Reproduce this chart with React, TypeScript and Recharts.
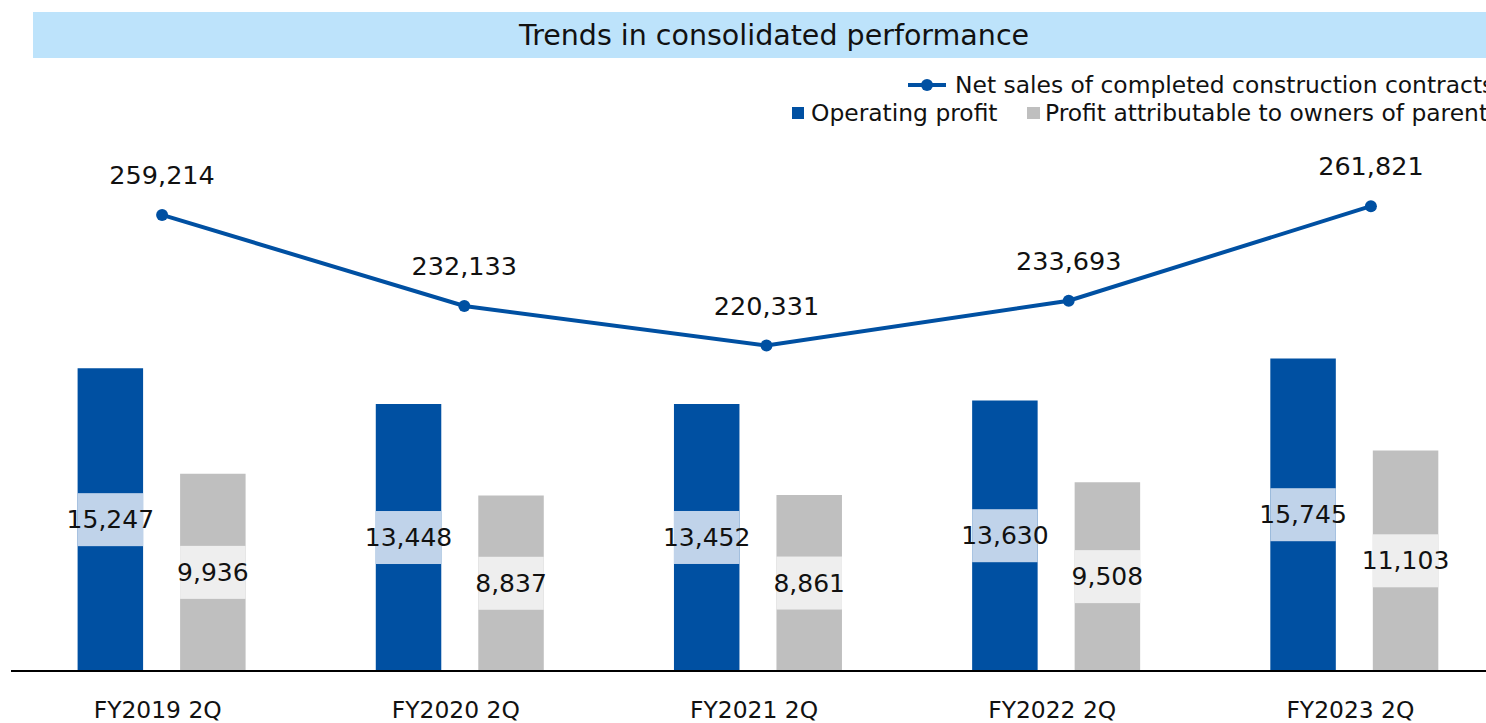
import { ComposedChart, Bar, Line, XAxis, YAxis, LabelList } from 'recharts';

const categories = ['FY2019 2Q', 'FY2020 2Q', 'FY2021 2Q', 'FY2022 2Q', 'FY2023 2Q'];
const netSales = [259214, 232133, 220331, 233693, 261821];
const operatingProfit = [15247, 13448, 13452, 13630, 15745];
const profitOwners = [9936, 8837, 8861, 9508, 11103];

const BLUE = '#0050a2';
const GRAY = '#bfbfbf';
const FONT = '"DejaVu Sans", Verdana, sans-serif';

const data = categories.map((c, i) => ({
  name: c,
  sales: netSales[i],
  op: operatingProfit[i],
  owners: profitOwners[i],
}));

const fmt = (v: number) => Number(v).toLocaleString('en-US');

// value box drawn across the middle of each bar
function boxLabel(bg: string) {
  return (props: any) => {
    const { x, y, width, height, value } = props;
    const cy = y + height / 2;
    return (
      <g>
        <rect x={x} y={cy - 26.5} width={width} height={53} fill={bg} />
        <text
          x={x + width / 2}
          y={cy}
          textAnchor="middle"
          dominantBaseline="central"
          fontSize={25}
          fontFamily={FONT}
          fill="#111"
        >
          {fmt(value)}
        </text>
      </g>
    );
  };
}

function lineLabel(props: any) {
  const { x, y, value } = props;
  return (
    <text
      x={x}
      y={y - 40}
      textAnchor="middle"
      dominantBaseline="central"
      fontSize={25.5}
      fontFamily={FONT}
      fill="#111"
    >
      {fmt(value)}
    </text>
  );
}

function CategoryTick(props: any) {
  const { x, y, payload } = props;
  return (
    <text
      x={x - 4}
      y={y + 8}
      textAnchor="middle"
      dominantBaseline="central"
      fontSize={23.4}
      fontFamily={FONT}
      fill="#111"
    >
      {payload.value}
    </text>
  );
}

export default function App() {
  return (
    <div
      style={{
        position: 'absolute',
        left: 0,
        top: 0,
        width: 1486,
        height: 723,
        overflow: 'hidden',
        background: '#fff',
        fontFamily: FONT,
      }}
    >
      <div
        style={{
          position: 'absolute',
          left: 33,
          top: 12,
          width: 1453,
          height: 46,
          boxSizing: 'border-box',
          paddingLeft: 29,
          background: '#bde3fb',
          textAlign: 'center',
          lineHeight: '48px',
          fontSize: 28.5,
          color: '#111',
          whiteSpace: 'nowrap',
        }}
      >
        Trends in consolidated performance
      </div>

      {/* legend */}
      <svg style={{ position: 'absolute', left: 0, top: 0 }} width={1500} height={130}>
        <line x1={908} y1={85} x2={946} y2={85} stroke={BLUE} strokeWidth={4} />
        <circle cx={927} cy={85} r={6} fill={BLUE} />
        <text x={955} y={85} dominantBaseline="central" fontSize={23.4} fontFamily={FONT} fill="#111">
          Net sales of completed construction contracts
        </text>
        <rect x={792} y={107} width={12} height={12} fill={BLUE} />
        <text x={811} y={113} dominantBaseline="central" fontSize={23.4} fontFamily={FONT} fill="#111">
          Operating profit
        </text>
        <rect x={1027} y={107} width={13} height={12} fill={GRAY} />
        <text x={1045} y={113} dominantBaseline="central" fontSize={23.4} fontFamily={FONT} fill="#111">
          Profit attributable to owners of parent
        </text>
      </svg>

      <div style={{ position: 'absolute', left: 0, top: 0 }}>
        <ComposedChart
          width={1530}
          height={723}
          data={data}
          margin={{ top: 135, right: 8, bottom: 22, left: 11 }}
          barGap={37}
        >
          <XAxis
            xAxisId="bar"
            dataKey="name"
            padding={{ left: 1.6, right: 18.5 }}
            axisLine={{ stroke: '#000', strokeWidth: 2 }}
            tickLine={false}
            tickMargin={25}
            tick={<CategoryTick />}
            interval={0}
          />
          <XAxis xAxisId="line" dataKey="name" hide />
          <YAxis yAxisId="left" hide domain={[0, 27000]} />
          <YAxis yAxisId="right" orientation="right" hide domain={[123500, 283000]} />
          <Bar xAxisId="bar" yAxisId="left" dataKey="op" fill={BLUE} barSize={65.5} isAnimationActive={false}>
            <LabelList dataKey="op" content={boxLabel('#c0d3ea')} />
          </Bar>
          <Bar xAxisId="bar" yAxisId="left" dataKey="owners" fill={GRAY} barSize={65.5} isAnimationActive={false}>
            <LabelList dataKey="owners" content={boxLabel('#eeeeee')} />
          </Bar>
          <Line
            xAxisId="line"
            yAxisId="right"
            dataKey="sales"
            stroke={BLUE}
            strokeWidth={4}
            dot={{ r: 6, fill: BLUE, stroke: BLUE, strokeWidth: 0 }}
            activeDot={false}
            isAnimationActive={false}
          >
            <LabelList dataKey="sales" content={lineLabel} />
          </Line>
        </ComposedChart>
      </div>
    </div>
  );
}
